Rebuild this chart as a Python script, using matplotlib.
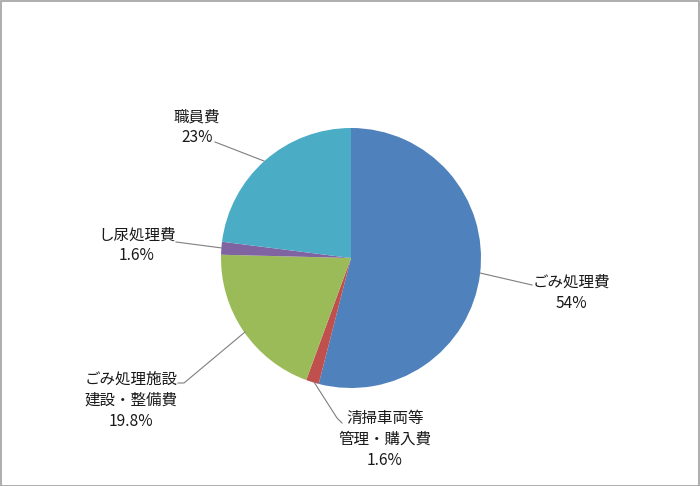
import matplotlib
matplotlib.use("Agg")
import matplotlib.pyplot as plt

plt.rcParams['font.family'] = ['Noto Sans CJK JP', 'DejaVu Sans']

categories = ["ごみ処理費", "清掃車両等\n管理・購入費", "ごみ処理施設\n建設・整備費", "し尿処理費", "職員費"]
values = [54.0, 1.6, 19.8, 1.6, 23.0]
pct_labels = ["54%", "1.6%", "19.8%", "1.6%", "23%"]
colors = ["#4F81BD", "#C0504D", "#9BBB59", "#8064A2", "#4BACC6"]

W, H = 700, 486
CX, CY, R = 351, 258, 130

fig = plt.figure(figsize=(W / 100, H / 100), dpi=100)
ax = fig.add_axes([0, 0, 1, 1])

ax.pie(values, colors=colors, startangle=90, counterclock=False, radius=1.0,
       center=(0, 0), wedgeprops=dict(linewidth=0))
ax.set_xlim(-CX / R, (W - CX) / R)
ax.set_ylim(-(H - CY) / R, CY / R)
ax.set_aspect('equal')
ax.axis('off')

def P(px, py):
    return ((px - CX) / R, (CY - py) / R)

# label layout: (center x px, first line y px), leader polyline in px
layout = [
    (571, 282, [(532, 285), (480, 273)]),
    (385, 418, [(342, 423), (337, 418), (314, 382)]),
    (131, 379, [(178, 383), (184, 383), (245, 332)]),
    (137, 235, [(176, 242), (222, 248)]),
    (197, 117, [(215, 142), (264, 161)]),
]
pitch = 21
for cat, pct, (lx, ly, pts) in zip(categories, pct_labels, layout):
    lines = cat.split("\n") + [pct]
    for i, t in enumerate(lines):
        x, y = P(lx, ly + i * pitch)
        ax.text(x, y, t, ha='center', va='center', fontsize=11.2, color='#1a1a1a')
    xs = [P(*p)[0] for p in pts]
    ys = [P(*p)[1] for p in pts]
    ax.plot(xs, ys, color='#7f7f7f', lw=0.8)

# outer border
fig.patches.append(plt.Rectangle((0.5 / W, 0.5 / H), 1 - 1.5 / W, 1 - 1.5 / H,
                                 transform=fig.transFigure, fill=False,
                                 edgecolor='#a0a0a0', lw=1.2))

fig.savefig("out.png", dpi=100, facecolor='white')
